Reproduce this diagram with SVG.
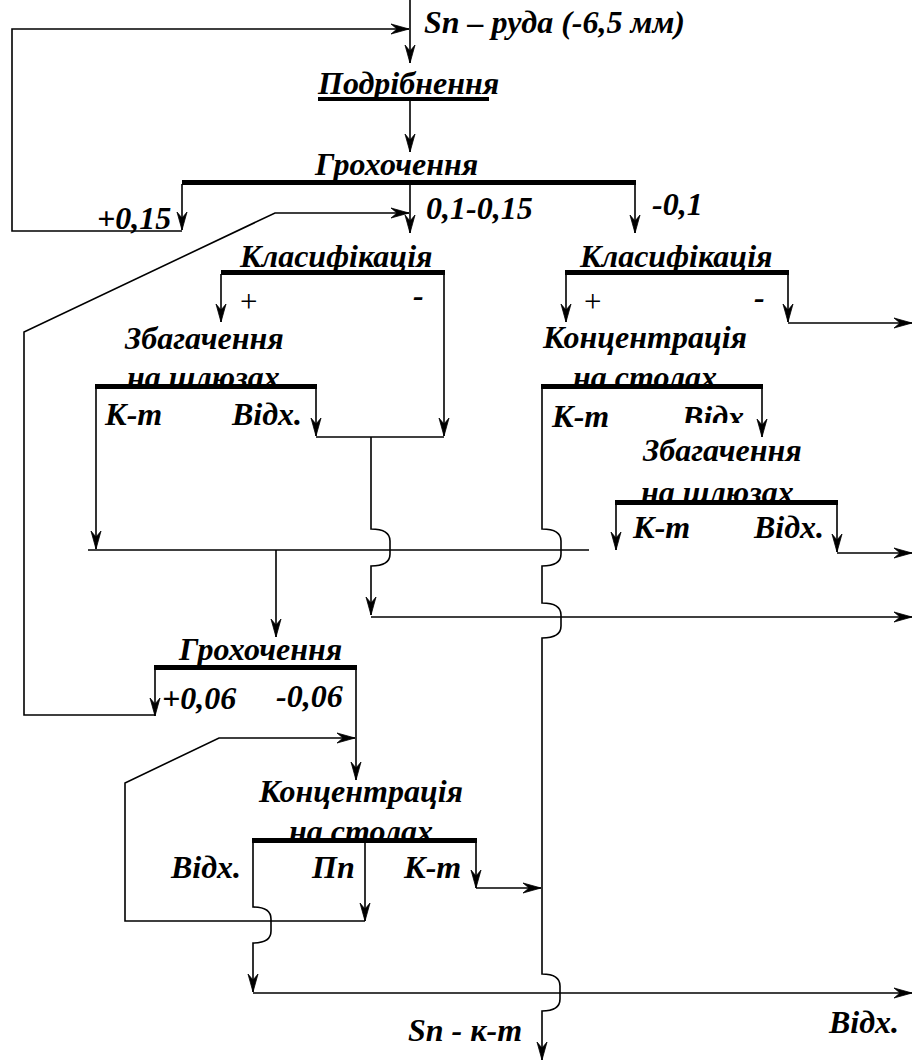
<svg xmlns="http://www.w3.org/2000/svg" width="915" height="1061" viewBox="0 0 915 1061">
<style>
.t{font-family:"Liberation Serif","Times New Roman",serif;font-weight:bold;font-style:italic;font-size:32px;fill:#000}
.r{font-family:"Liberation Serif","Times New Roman",serif;font-size:31px;fill:#000}
.bar{fill:#000}
.ln{fill:none;stroke:#000;stroke-width:1.6}
</style>
<defs>
<marker id="ah" markerUnits="userSpaceOnUse" markerWidth="24" markerHeight="14" viewBox="-20 -7 22 14" refX="0" refY="0" orient="auto">
<path d="M0,0 L-18,-5 L-12,0 L-18,5 Z" fill="#000" stroke="#000" stroke-width="0.8" stroke-linejoin="miter"/>
</marker>
</defs>
<rect width="915" height="1061" fill="#fff"/>

<g id="connectors" class="ln">
<path d="M410,0 V63" marker-end="url(#ah)"/>
<path d="M410,101 V152" marker-end="url(#ah)"/>
<path d="M182,184 V230" marker-end="url(#ah)"/>
<path d="M182,231 H12 V29 H409" marker-end="url(#ah)"/>
<path d="M410,184 V233" marker-end="url(#ah)"/>
<path d="M635,184 V233" marker-end="url(#ah)"/>
<path d="M155,670 V716" marker-end="url(#ah)"/>
<path d="M155,715 H24 V332 L275,213 H409" marker-end="url(#ah)"/>
<path d="M221,274 V322" marker-end="url(#ah)"/>
<path d="M444,274 V436" marker-end="url(#ah)"/>
<path d="M316,437 H444"/>
<path d="M316,389 V436" marker-end="url(#ah)"/>
<path d="M371,437 V529 Q390,529 390,541 V554 Q390,566 371,566 V615" marker-end="url(#ah)"/>
<path d="M371,617 H912" marker-end="url(#ah)"/>
<path d="M96,389 V549" marker-end="url(#ah)"/>
<path d="M88,550 H589"/>
<path d="M276,550 V637" marker-end="url(#ah)"/>
<path d="M566,274 V322" marker-end="url(#ah)"/>
<path d="M788,274 V322" marker-end="url(#ah)"/>
<path d="M788,323 H912" marker-end="url(#ah)"/>
<path d="M542,389 V529 Q561,529 561,541 V554 Q561,566 542,566 V603 Q561,603 561,615 V626 Q561,638 542,638 V974 Q560,974 560,986 V999 Q560,1011 542,1011 V1060" marker-end="url(#ah)"/>
<path d="M762,389 V437" marker-end="url(#ah)"/>
<path d="M616,505 V550" marker-end="url(#ah)"/>
<path d="M837,505 V552" marker-end="url(#ah)"/>
<path d="M837,553 H912" marker-end="url(#ah)"/>
<path d="M356,670 V780" marker-end="url(#ah)"/>
<path d="M365,843 V921" marker-end="url(#ah)"/>
<path d="M365,921 H125 V783 L219,738 H355" marker-end="url(#ah)"/>
<path d="M476,843 V888" marker-end="url(#ah)"/>
<path d="M476,888 H541" marker-end="url(#ah)"/>
<path d="M253,843 V907 Q271,907 271,919 V931 Q271,943 253,943 V992" marker-end="url(#ah)"/>
<path d="M253,993 H912" marker-end="url(#ah)"/>
</g>

<g id="feed"><text class="t" x="424" y="33">Sn – руда (-6,5 мм)</text></g>
<g id="crush"><text class="t" x="318" y="94">Подрібнення</text><rect class="bar" x="318" y="97" width="171" height="4"/></g>
<g id="screen1"><text class="t" x="315" y="175">Грохочення</text><rect class="bar" x="182" y="180" width="454" height="5"/></g>
<g id="class1"><text class="t" x="240" y="267">Класифікація</text><rect class="bar" x="221" y="270" width="224" height="5"/></g>
<g id="class2"><text class="t" x="580" y="267">Класифікація</text><rect class="bar" x="565" y="270" width="224" height="5"/></g>
<g id="sluice1"><text class="t" x="125" y="349">Збагачення</text><text class="t" x="127" y="388">на шлюзах</text><rect class="bar" x="95" y="384" width="222" height="5"/></g>
<g id="table1"><text class="t" x="543" y="348">Концентрація</text><text class="t" x="573" y="388">на столах</text><rect class="bar" x="541" y="384" width="222" height="5"/></g>
<g id="sluice2"><text class="t" x="643" y="461">Збагачення</text><text class="t" x="641" y="503">на шлюзах</text><rect class="bar" x="615" y="500" width="223" height="5"/></g>
<g id="screen2"><text class="t" x="179" y="660">Грохочення</text><rect class="bar" x="154" y="665" width="203" height="5"/></g>
<g id="table2"><text class="t" x="259" y="802">Концентрація</text><text class="t" x="289" y="842">на столах</text><rect class="bar" x="252" y="838" width="225" height="5"/></g>

<g id="labels">
<text class="t" x="97" y="229">+0,15</text>
<text class="t" x="426" y="219">0,1-0,15</text>
<text class="t" x="652" y="215">-0,1</text>
<text class="r" x="240" y="312">+</text>
<text class="t" x="413" y="306">-</text>
<text class="r" x="584" y="312">+</text>
<text class="t" x="754" y="308">-</text>
<text class="t" x="105" y="425">К-т</text>
<text class="t" x="232" y="425">Відх.</text>
<text class="t" x="552" y="427">К-т</text>
<text class="t" x="682" y="428">Відх</text>
<rect x="672" y="423" width="80" height="12" fill="#fff"/>
<text class="t" x="633" y="538">К-т</text>
<text class="t" x="754" y="538">Відх.</text>
<text class="t" x="162" y="709">+0,06</text>
<text class="t" x="276" y="707">-0,06</text>
<text class="t" x="171" y="878">Відх.</text>
<text class="t" x="312" y="878">Пп</text>
<text class="t" x="404" y="878">К-т</text>
<text class="t" x="408" y="1041">Sn - к-т</text>
<text class="t" x="829" y="1033">Відх.</text>
</g>
</svg>
